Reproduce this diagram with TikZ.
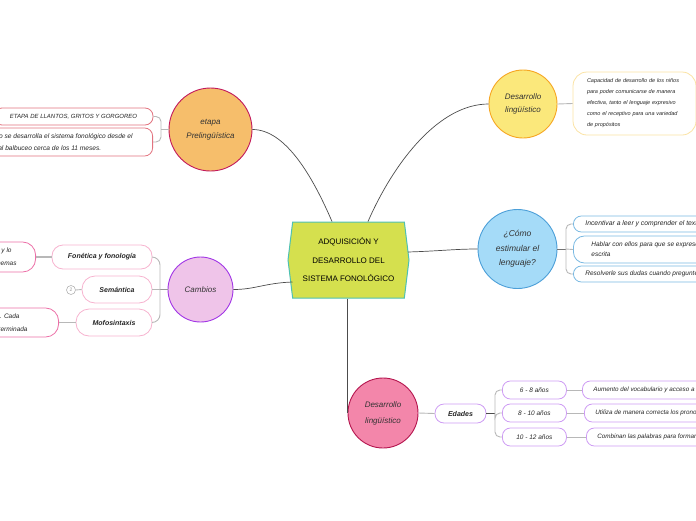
\documentclass[tikz,border=0pt]{standalone}
\usepackage{fontspec}
\setmainfont{Liberation Sans}
\usetikzlibrary{shapes.symbols}

\definecolor{hubfill}{HTML}{D5E04E}
\definecolor{hubline}{HTML}{4EC1B3}
\definecolor{prefill}{HTML}{F6BE6B}
\definecolor{preline}{HTML}{C2185B}
\definecolor{preleaf}{HTML}{E2737F}
\definecolor{camfill}{HTML}{EFC4E9}
\definecolor{camline}{HTML}{A236E6}
\definecolor{camchild}{HTML}{F7B3CF}
\definecolor{camleaf}{HTML}{EC6FA7}
\definecolor{devfill}{HTML}{FBE87B}
\definecolor{devline}{HTML}{F6A623}
\definecolor{devleaf}{HTML}{FBE3A4}
\definecolor{estfill}{HTML}{A5DBF8}
\definecolor{estline}{HTML}{4C9FD8}
\definecolor{estleaf}{HTML}{79B9E2}
\definecolor{lingfill}{HTML}{F386AA}
\definecolor{lingline}{HTML}{B4154E}
\definecolor{ageleaf}{HTML}{CE9CF4}

\begin{document}
\begin{tikzpicture}[x=1pt,y=-1pt,
        link/.style={draw=black!70,line width=.7pt},
        twig/.style={draw=black!28,line width=.9pt,rounded corners=5pt},
        bubble/.style={circle,minimum size=#1,inner sep=0pt,line width=.9pt,align=center,text=black!80,font=\fontsize{8}{13}\selectfont\itshape},
        leaf/.style={draw=#1,fill=white,rounded corners=8pt,line width=.8pt,inner ysep=0pt,text=black!85,font=\fontsize{6}{10}\selectfont\itshape},
        tag/.style={leaf=#1,rounded corners=11pt,font=\fontsize{7}{9}\selectfont\bfseries\itshape}]
        \useasboundingbox (0,0) rectangle (696,520);

        \node[signal,signal to=west and east,signal pointer angle=166,draw=hubline,fill=hubfill,line width=1pt,minimum width=121pt,minimum height=76pt,inner sep=0pt,align=center,font=\fontsize{8}{18.5}\selectfont] (main) at (348.5,260) {ADQUISICIÓN Y\\DESARROLLO DEL\\SISTEMA FONOLÓGICO};

        \node[bubble=83pt,fill=prefill,draw=preline,font=\fontsize{8}{14}\selectfont\itshape] (pre) at (210.5,129.5) {etapa\\Prelingüística};
        \node[bubble=65pt,fill=camfill,draw=camline] (cam) at (200.5,289.5) {Cambios};
        \node[bubble=68pt,fill=devfill,draw=devline] (dev) at (523,104) {Desarrollo\\lingüístico};
        \node[bubble=79pt,fill=estfill,draw=estline,font=\fontsize{8.5}{14.5}\selectfont\itshape] (est) at (517.5,249) {¿Cómo\\estimular el\\lenguaje?};
        \node[bubble=70pt,fill=lingfill,draw=lingline,font=\fontsize{8}{16}\selectfont\itshape] (ling) at (383,413) {Desarrollo\\lingüístico};

        \draw[link] ([xshift=-16.5pt]main.north) .. controls (312,175) and (285,129.5) .. (pre.east);
        \draw[link] ([xshift=19.5pt]main.north) .. controls (395,160) and (440,104) .. (dev.west);
        \draw[link] ([shift={(5pt,-22pt)}]main.west) .. controls (265,283) and (255,289.5) .. (cam.east);
        \draw[link] ([shift={(-1.5pt,8pt)}]main.east) .. controls (440,251) and (455,249) .. (est.west);
        \draw[link] (main.south -| ling.west) -- (ling.west);

        % etapa prelinguistica
        \node[leaf=preleaf,minimum width=159pt,minimum height=17pt] (llanto) at (73.5,116.5) {ETAPA DE LLANTOS, GRITOS Y GORGOREO};
        \node[leaf=preleaf,anchor=east,inner xsep=20pt,minimum height=28pt,align=left,font=\fontsize{6.6}{12}\selectfont\itshape] (balb) at (153,142) {periodo se desarrolla el sistema fonológico desde el\\llanto al balbuceo cerca de los 11 meses.};
        \coordinate (jpre) at (161,129.5);
        \draw[twig] (pre.west) -- (jpre);
        \draw[twig] (jpre) |- (llanto.east);
        \draw[twig] (jpre) |- (balb.east);

        % cambios
        \node[tag=camchild,minimum width=100pt,minimum height=24pt] (fon) at (102,257) {Fonética y fonología};
        \node[tag=camchild,minimum width=70pt,minimum height=27pt,rounded corners=13pt] (sem) at (117,289.5) {Semántica};
        \node[tag=camchild,minimum width=76pt,minimum height=27pt,rounded corners=13pt] (mor) at (114,322.5) {Mofosintaxis};
        \node[leaf=camleaf,anchor=east,inner xsep=19pt,minimum height=30pt,rounded corners=13pt,align=right,font=\fontsize{6.5}{13}\selectfont\itshape] (fonx) at (36,257) {sonidos y lo\hspace*{5pt}\\fonemas};
        \node[leaf=camleaf,anchor=east,inner xsep=31pt,minimum height=29pt,rounded corners=13pt,align=right,font=\fontsize{6.5}{13}\selectfont\itshape] (morx) at (59,322.5) {palabras. Cada\hspace*{8pt}\\determinada};
        \node[circle,draw=black!30,line width=.6pt,inner sep=0pt,minimum size=9pt,text=black!40,font=\fontsize{5}{5}\selectfont] (more) at (71,290) {2};
        \coordinate (jcam) at (160,289.5);
        \draw[draw=black!40,line width=1.4pt] (cam.west) -- (jcam);
        \draw[twig,rounded corners=8pt] (jcam) |- (fon.east);
        \draw[twig] (jcam) -- (sem.east);
        \draw[twig,rounded corners=8pt] (jcam) |- (mor.east);
        \draw[twig,line width=1.2pt] (fon.west) -- (fonx.east);
        \draw[twig,line width=1.2pt] (mor.west) -- (morx.east);
        \draw[twig] (sem.west) -- (more.east);

        % desarrollo linguistico
        \node[leaf=devleaf,minimum width=123pt,minimum height=63pt,rounded corners=14pt,text width=95pt,align=left,font=\fontsize{5.5}{11}\selectfont\itshape] (cap) at (634.5,103.5) {Capacidad de desarrollo de los niños\\para poder comunicarse de manera\\efectiva, tanto el lenguaje expresivo\\como el receptivo para una variedad\\de propósitos};
        \draw[twig] (dev.east) -- (cap.west);

        % como estimular
        \node[leaf=estleaf,anchor=west,inner xsep=12pt,minimum height=16pt,font=\fontsize{6.8}{10}\selectfont\itshape] (inc) at (573,224) {Incentivar a leer y comprender el texto};
        \node[leaf=estleaf,anchor=west,inner xsep=18pt,minimum height=27pt,align=left,rounded corners=11pt,font=\fontsize{6.5}{10}\selectfont\itshape] (hab) at (573,249.5) {Hablar con ellos para que se expresen de forma oral y\\escrita};
        \node[leaf=estleaf,anchor=west,inner xsep=12pt,minimum height=16pt,font=\fontsize{6.5}{10}\selectfont\itshape] (res) at (573,274) {Resolverle sus dudas cuando pregunten};
        \coordinate (jest) at (566,249);
        \draw[draw=black!55,line width=.7pt] (est.east) -- (jest);
        \draw[twig] (jest) |- (inc.west);
        \draw[twig] (jest) -- (hab.west);
        \draw[twig] (jest) |- (res.west);

        % edades
        \node[tag=ageleaf,minimum width=51pt,minimum height=19pt,rounded corners=9pt] (ed) at (460.5,413.5) {Edades};
        \draw[twig] (ling.east) -- (ed.west);
        \coordinate (jed) at (495,413.5);
        \draw[draw=black!70,line width=.7pt] (ed.east) -- (jed);
        \foreach \y/\age/\x/\txt [count=\i] in {390/6 - 8 años/582/Aumento del vocabulario y acceso a nuevas palabras,413/8 - 10 años/584/Utiliza de manera correcta los pronombres,437/10 - 12 años/586/Combinan las palabras para formar oraciones}
        {
        \node[leaf=ageleaf,anchor=west,minimum width=64pt,minimum height=18pt,font=\fontsize{6.5}{8}\selectfont\itshape] (a\i) at (502,\y) {\age};
        \node[leaf=ageleaf,anchor=west,inner xsep=11pt,minimum height=18pt,font=\fontsize{6.3}{10}\selectfont\itshape] (l\i) at (\x,\y) {\txt};
        \draw[twig] (jed) |- (a\i.west);
        \draw[twig] (a\i.east) -- (l\i.west);
        }
\end{tikzpicture}
\end{document}
